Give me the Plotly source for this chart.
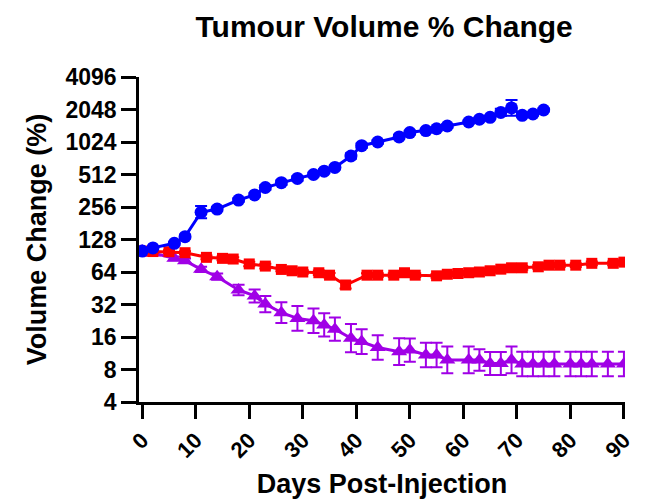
import plotly.graph_objects as go

# Blue (circles)
blue_days = [0, 2, 6, 8, 11, 14, 18, 21, 23, 26, 29, 32, 34, 36, 39, 41, 44, 48, 50, 53, 55, 57, 61, 63, 65, 67, 69, 71, 73, 75]
blue_vals = [100, 107, 118, 136, 229, 245, 297, 331, 388, 430, 471, 512, 550, 596, 760, 946, 1024, 1140, 1253, 1306, 1358, 1440, 1568, 1663, 1735, 1922, 2120, 1807, 1860, 2026]
blue_err = [1.01, 1.02, 1.03, 1.04, 1.14, 1.05, 1.04, 1.04, 1.05, 1.05, 1.05, 1.04, 1.04, 1.04, 1.06, 1.05, 1.04, 1.05, 1.04, 1.04, 1.04, 1.04, 1.03, 1.03, 1.03, 1.08, 1.18, 1.03, 1.03, 1.03]

# Red (squares)
red_days = [0, 2, 5, 8, 12, 15, 17, 20, 23, 26, 28, 30, 33, 35, 38, 42, 44, 47, 49, 51, 55, 57, 59, 61, 63, 65, 67, 69, 71, 74, 76, 78, 81, 84, 88, 90]
red_vals = [100, 99, 98.7, 96.6, 87.5, 85.6, 84.4, 76, 72.6, 67.6, 65.7, 64, 63, 59.8, 48.5, 59.8, 59.8, 59.8, 63, 59.8, 59, 61, 62, 63, 64, 65.7, 68, 70, 70, 71.5, 74, 74, 74, 77, 77, 79]
red_err = [1.01, 1.02, 1.03, 1.03, 1.04, 1.04, 1.04, 1.05, 1.05, 1.04, 1.04, 1.04, 1.05, 1.05, 1.08, 1.04, 1.04, 1.04, 1.04, 1.04, 1.04, 1.04, 1.04, 1.04, 1.04, 1.04, 1.04, 1.04, 1.04, 1.04, 1.04, 1.04, 1.04, 1.04, 1.04, 1.04]

# Purple (triangles)
purple_days = [0, 2, 6, 8, 11, 14, 18, 21, 23, 26, 29, 32, 34, 36, 39, 41, 44, 48, 50, 53, 55, 57, 61, 63, 65, 67, 69, 71, 73, 75, 77, 80, 82, 84, 87, 90]
purple_vals = [100, 96, 85.6, 81.5, 67.7, 57.9, 43.6, 38.4, 32.3, 26.9, 23.8, 22.6, 20.7, 18.9, 15.6, 14.5, 12.8, 11.7, 12.1, 10.9, 10.9, 9.8, 9.8, 9.8, 9.1, 9.1, 9.8, 9.0, 9.0, 9.0, 9.0, 9.0, 9.0, 9.0, 9.0, 9.0]
purple_err = [1.01, 1.02, 1.04, 1.05, 1.06, 1.07, 1.12, 1.15, 1.19, 1.25, 1.3, 1.3, 1.28, 1.28, 1.35, 1.3, 1.3, 1.33, 1.28, 1.3, 1.3, 1.33, 1.33, 1.26, 1.28, 1.28, 1.33, 1.3, 1.3, 1.3, 1.3, 1.3, 1.3, 1.3, 1.3, 1.3]

y_tickvals = [4, 8, 16, 32, 64, 128, 256, 512, 1024, 2048, 4096]
x_tickvals = [0, 10, 20, 30, 40, 50, 60, 70, 80, 90]

BLUE = "#0000FF"
RED = "#FF0000"
PURPLE = "#A000E6"


def err(vals, f):
    up = [v * (k - 1) for v, k in zip(vals, f)]
    dn = [v * (1 - 1 / k) for v, k in zip(vals, f)]
    return up, dn


fig = go.Figure()
series = [
    (purple_days, purple_vals, purple_err, PURPLE, "triangle-up", 14),
    (red_days, red_vals, red_err, RED, "square", 11),
    (blue_days, blue_vals, blue_err, BLUE, "circle", 13),
]
for d, v, f, c, sym, sz in series:
    up, dn = err(v, f)
    fig.add_trace(go.Scatter(
        x=d, y=v, mode="lines+markers",
        line=dict(color=c, width=3),
        marker=dict(color=c, symbol=sym, size=sz, line=dict(width=0)),
        error_y=dict(type="data", symmetric=False, array=up, arrayminus=dn,
                     color=c, thickness=2, width=6),
        showlegend=False,
    ))

FONT = "Liberation Sans"
fig.update_layout(
    width=643, height=491,
    margin=dict(l=131, r=26, t=69, b=97, autoexpand=False),
    paper_bgcolor="white", plot_bgcolor="white",
    font=dict(family=FONT, color="black"),
    title=dict(text="<b>Tumour Volume % Change</b>", x=0.585, xanchor="center",
               y=0.962, yanchor="middle", font=dict(size=30, family=FONT)),
)
fig.update_xaxes(
    range=[-0.6, 90.2], tickvals=x_tickvals,
    ticktext=[f"<b>{t}</b>" for t in x_tickvals], tickangle=-45,
    tickfont=dict(size=22, family=FONT),
    showline=True, linecolor="black", linewidth=2.5,
    ticks="outside", ticklen=14, tickwidth=2.5, tickcolor="black",
    showgrid=False, zeroline=False,
    title=dict(text="<b>Days Post-Injection</b>", font=dict(size=27, family=FONT), standoff=16),
)
fig.update_yaxes(
    type="log", range=[0.60206, 3.61236], tickvals=y_tickvals,
    ticktext=[f"<b>{t}</b>" for t in y_tickvals],
    tickfont=dict(size=23, family=FONT),
    showline=True, linecolor="black", linewidth=2.5,
    ticks="outside", ticklen=15, tickwidth=2.5, tickcolor="black",
    showgrid=False, zeroline=False,
    title=dict(text="<b>Volume Change (%)</b>", font=dict(size=27, family=FONT), standoff=12),
)

fig.write_html("out.html")
